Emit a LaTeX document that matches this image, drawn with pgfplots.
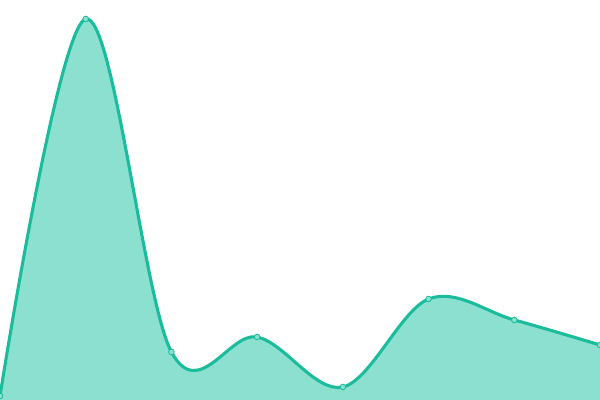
\documentclass[border=0pt]{standalone}
\usepackage{pgfplots}
\pgfplotsset{compat=1.18}
\definecolor{linec}{RGB}{26,188,156}
\definecolor{fillc}{RGB}{139,224,207}

\begin{document}
\begin{tikzpicture}
\begin{axis}[
    hide axis,
    scale only axis,
    width=15cm,
    height=10cm,
    xmin=0, xmax=7,
    ymin=0, ymax=400,
    clip=true,
]
\addplot[draw=none, fill=fillc, smooth, tension=0.58] coordinates {
    (0,4) (1,381) (2,48) (3,63) (4,13) (5,101) (6,80) (7,55)
} \closedcycle;
\addplot[color=linec, line width=2.2pt, smooth, tension=0.58,
    mark=*, mark size=2pt,
    mark options={fill=fillc, draw=linec, line width=0.6pt}] coordinates {
    (0,4) (1,381) (2,48) (3,63) (4,13) (5,101) (6,80) (7,55)
};
\end{axis}
\pgfresetboundingbox
\path (current axis.south west) rectangle (current axis.north east);
\end{tikzpicture}
\end{document}
